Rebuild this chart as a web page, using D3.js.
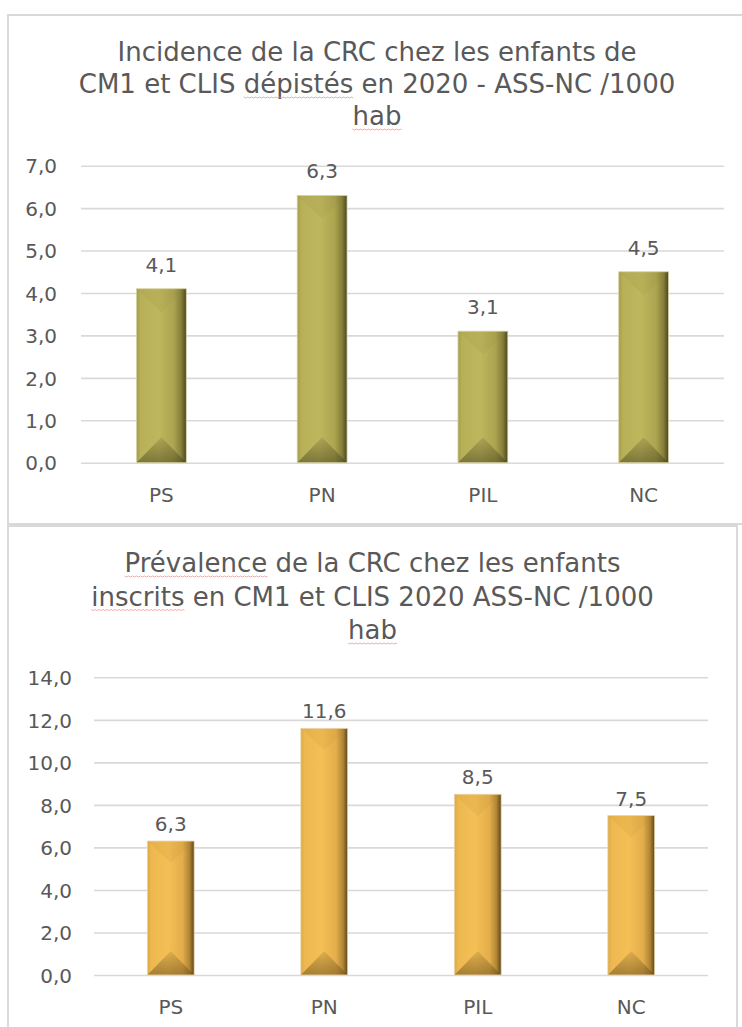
<!DOCTYPE html>
<html>
<head>
<meta charset="utf-8">
<script src="https://cdn.jsdelivr.net/npm/d3@7"></script>
<style>
  html, body { margin: 0; padding: 0; background: #ffffff; }
  svg { display: block; }
</style>
</head>
<body>
<svg id="chart" width="742" height="1027"></svg>
<script>
// ---------- DATA ----------
const categories = ["PS", "PN", "PIL", "NC"];
const incidenceValues = [4.1, 6.3, 3.1, 4.5];
const prevalenceValues = [6.3, 11.6, 8.5, 7.5];
const incidenceTicks = [0, 1, 2, 3, 4, 5, 6, 7];
const prevalenceTicks = [0, 2, 4, 6, 8, 10, 12, 14];
const incidenceTitle = [
  "Incidence de la CRC chez les enfants de",
  "CM1 et CLIS dépistés en 2020 - ASS-NC /1000",
  "hab"
];
const prevalenceTitle = [
  "Prévalence de la CRC chez les enfants",
  "inscrits en CM1 et CLIS 2020 ASS-NC /1000",
  "hab"
];
const incidenceFlagged = [[], ["dépistés"], ["hab"]];
const prevalenceFlagged = [["Prévalence"], ["inscrits"], ["hab"]];

// ---------- STYLE / LAYOUT ----------
const FONT = "'DejaVu Sans', sans-serif";
const TEXT = "#595959";
const GRID = "#D9D9D9";
const fr = d3.formatLocale({ decimal: ",", thousands: " ", grouping: [3], currency: ["", "€"] });
const fmt = fr.format(".1f");

const svg = d3.select("#chart");
const defs = svg.append("defs");

function makeGradients(id, stops, bottomDark) {
  const h = defs.append("linearGradient").attr("id", id + "-h")
    .attr("x1", 0).attr("x2", 1).attr("y1", 0).attr("y2", 0);
  stops.forEach(s => h.append("stop").attr("offset", s[0]).attr("stop-color", s[1]));
  const b = defs.append("linearGradient").attr("id", id + "-b")
    .attr("x1", 0).attr("x2", 0).attr("y1", 0).attr("y2", 1);
  b.append("stop").attr("offset", 0).attr("stop-color", bottomDark).attr("stop-opacity", 0.15);
  b.append("stop").attr("offset", 1).attr("stop-color", bottomDark).attr("stop-opacity", 0.55);
}
makeGradients("olive", [
  [0, "#A39B48"], [0.08, "#B8B058"], [0.45, "#BFB75D"], [0.75, "#ACA44F"],
  [0.9, "#857E3A"], [1, "#4A4520"]
], "#4A4520");
makeGradients("gold", [
  [0, "#DCA846"], [0.08, "#EDB84F"], [0.45, "#F4BF55"], [0.75, "#E3AE4B"],
  [0.9, "#B08535"], [1, "#5E4519"]
], "#6B4E1C");

const charts = [
  {
    values: incidenceValues, ticks: incidenceTicks, title: incidenceTitle, flagged: incidenceFlagged,
    frame: { x: 8, y: 15, w: 742, h: 509 },
    plot: { x0: 81, x1: 724, yTop: 165.7, yBottom: 462.7 },
    titleX: 377, titleBase: [61, 93, 125],
    xLabelBase: 502, yLabelRight: 57, labelGap: 17,
    pad: 0.69, grad: "olive", topShade: "#8E8740", edge: "#D8D4A8"
  },
  {
    values: prevalenceValues, ticks: prevalenceTicks, title: prevalenceTitle, flagged: prevalenceFlagged,
    frame: { x: 8, y: 526, w: 729, h: 520 },
    plot: { x0: 94, x1: 708, yTop: 677.3, yBottom: 975 },
    titleX: 372.5, titleBase: [572, 605.5, 639],
    xLabelBase: 1014, yLabelRight: 72, labelGap: 10,
    pad: 0.695, grad: "gold", topShade: "#B5862E", edge: "#E8D7B0"
  }
];

charts.forEach(c => {
  const g = svg.append("g");

  // frame
  g.append("rect")
    .attr("x", c.frame.x).attr("y", c.frame.y)
    .attr("width", c.frame.w).attr("height", c.frame.h)
    .attr("fill", "#fff").attr("stroke", GRID).attr("stroke-width", 2);

  const x = d3.scaleBand().domain(categories)
    .range([c.plot.x0, c.plot.x1])
    .paddingInner(c.pad).paddingOuter(c.pad / 2);
  const y = d3.scaleLinear()
    .domain([0, d3.max(c.ticks)])
    .range([c.plot.yBottom, c.plot.yTop]);

  // gridlines
  const yGrid = d3.axisLeft(y).tickValues(c.ticks)
    .tickSize(-(c.plot.x1 - c.plot.x0)).tickFormat("");
  const gg = g.append("g").attr("transform", `translate(${c.plot.x0},0)`).call(yGrid);
  gg.select(".domain").remove();
  gg.selectAll(".tick line").attr("stroke", GRID).attr("stroke-width", 1.6);

  // y labels
  const yAx = d3.axisLeft(y).tickValues(c.ticks).tickSize(0).tickPadding(0).tickFormat(fmt);
  const ya = g.append("g").attr("transform", `translate(${c.yLabelRight},0)`).call(yAx);
  ya.select(".domain").remove();
  ya.selectAll(".tick text")
    .attr("font-family", FONT).attr("font-size", 20).attr("fill", TEXT)
    .attr("x", 0).attr("dy", "0.36em");

  // x labels
  const xAx = d3.axisBottom(x).tickSize(0).tickPadding(0);
  const xa = g.append("g").attr("transform", `translate(0,${c.xLabelBase})`).call(xAx);
  xa.select(".domain").remove();
  xa.selectAll(".tick text")
    .attr("font-family", FONT).attr("font-size", 20).attr("fill", TEXT)
    .attr("y", 0).attr("dy", 0);

  // bars with bevel
  const data = categories.map((k, i) => ({ k, v: c.values[i] }));
  const bars = g.selectAll(".bar").data(data).enter().append("g").attr("class", "bar");
  bars.append("rect")
    .attr("x", d => x(d.k)).attr("y", d => y(d.v))
    .attr("width", x.bandwidth()).attr("height", d => y(0) - y(d.v))
    .attr("fill", `url(#${c.grad}-h)`);
  const bw = x.bandwidth();
  const depth = bw / 2;
  bars.append("polygon")
    .attr("points", d => {
      const x0 = x(d.k), yt = y(d.v);
      return `${x0},${yt} ${x0 + bw},${yt} ${x0 + bw - depth * 0.98},${yt + depth * 0.92} ${x0 + depth * 0.98},${yt + depth * 0.92}`;
    })
    .attr("fill", c.topShade).attr("opacity", 0.12);
  bars.append("polygon")
    .attr("points", d => {
      const x0 = x(d.k), yb = y(0);
      return `${x0},${yb} ${x0 + bw},${yb} ${x0 + bw - depth * 0.98},${yb - depth} ${x0 + depth * 0.98},${yb - depth}`;
    })
    .attr("fill", `url(#${c.grad}-b)`);
  bars.append("rect")
    .attr("x", d => x(d.k)).attr("y", d => y(d.v))
    .attr("width", bw).attr("height", d => y(0) - y(d.v))
    .attr("fill", "none").attr("stroke", c.edge).attr("stroke-width", 0.8);

  // value labels
  g.selectAll(".vlabel").data(data).enter().append("text")
    .attr("class", "vlabel")
    .attr("x", d => x(d.k) + bw / 2)
    .attr("y", d => y(d.v) - c.labelGap)
    .attr("text-anchor", "middle")
    .attr("font-family", FONT).attr("font-size", 20).attr("fill", TEXT)
    .text(d => fmt(d.v));

  // title
  c.title.forEach((line, i) => {
    const t = g.append("text")
      .attr("x", c.titleX).attr("y", c.titleBase[i])
      .attr("text-anchor", "middle")
      .attr("font-family", FONT).attr("font-size", 26).attr("fill", TEXT)
      .text(line);
    const node = t.node();
    const total = node.getComputedTextLength();
    const start = c.titleX - total / 2;
    c.flagged[i].forEach(word => {
      const idx = line.indexOf(word);
      if (idx < 0) return;
      const off = idx > 0 ? node.getSubStringLength(0, idx) : 0;
      const wlen = node.getSubStringLength(idx, word.length);
      const yy = c.titleBase[i] + 4;
      let p = `M${start + off},${yy}`;
      for (let xx = start + off, k = 0; xx < start + off + wlen; xx += 2, k++) {
        p += ` L${Math.min(xx + 2, start + off + wlen)},${yy + (k % 2 ? 0 : 1)}`;
      }
      g.append("path").attr("d", p).attr("fill", "none")
        .attr("stroke", "#EE8A8A").attr("stroke-width", 0.9).attr("opacity", 0.8);
    });
  });
});
</script>
</body>
</html>
